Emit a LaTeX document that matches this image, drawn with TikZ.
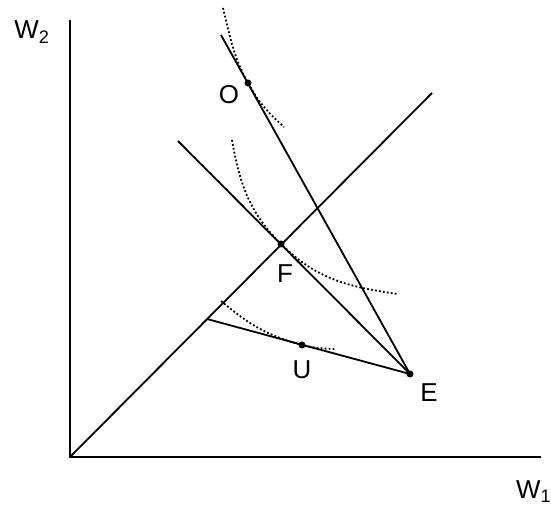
\documentclass[tikz,border=0pt]{standalone}
\usepackage{fontspec}
\setmainfont{Liberation Sans}
\usetikzlibrary{positioning}
\tikzset{
    axisline/.style={line width=2.4bp},
    budget/.style={line width=1.8bp},
    indiff/.style={line width=1.8bp, dash pattern=on 1.8bp off 2.2bp},
    dotpt/.style={circle, fill, inner sep=0pt, minimum size=7bp},
    % letters beside the points, placed by their baseline
    lbl/.style={font=\fontsize{26}{30}\selectfont, inner sep=0pt, anchor=base},
}

\begin{document}
\begin{tikzpicture}[x=1bp, y=1bp]
    \useasboundingbox (0,0) rectangle (551,510);

    \coordinate (orig) at (70,53);
    \coordinate (ytop) at (70,490);
    \coordinate (xend) at (541,53);
    \coordinate (diag) at (432,417);
    \coordinate (otop) at (221,475);
    \coordinate (fstart) at (178,369);
    \coordinate (ustart) at (207,191);

    \node[dotpt] (E) at (410,136) {};
    \node[dotpt] (O) at (248,427) {};
    \node[dotpt] (F) at (281,266) {};
    \node[dotpt] (U) at (302,165) {};

    % axes and the 45 degree line
    \draw[axisline] (ytop) -- (orig) -- (xend);
    \draw[budget] (orig) -- (diag);

    % lines through E
    \draw[budget] (E.center) -- (otop);
    \draw[budget] (E.center) -- (fstart);
    \draw[budget] (E.center) -- (ustart);

    % indifference curves
    \draw[indiff] (223,502) to[out=-76, in=119] (O.center) to[out=-61, in=138] (284,383);
    \draw[indiff] (232,370) to[out=-80, in=135] (F.center) to[out=-45, in=172] (398,216);
    \draw[indiff] (221,209) to[out=-40, in=165] (U.center) to[out=-15, in=178] (335,161);

    \node[lbl] (w2lbl) at (32,471) {W\textsubscript{2}};
    \node[lbl, anchor=base west] (w1lbl) at (516,11) {W\textsubscript{1}};
    \node[lbl] (olbl) at (229,406) {O};
    \node[lbl] (flbl) at (285,227) {F};
    \node[lbl] (ulbl) at (302,131) {U};
    \node[lbl] (elbl) at (429,108) {E};
\end{tikzpicture}
\end{document}
